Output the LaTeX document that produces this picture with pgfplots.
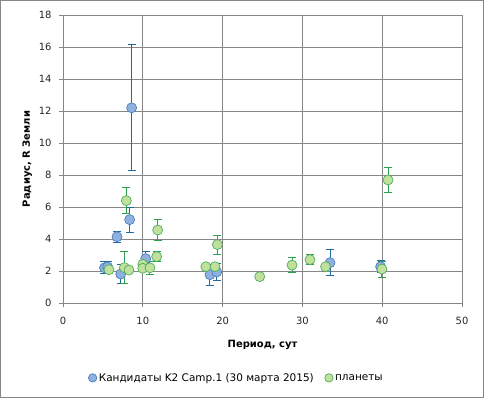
\documentclass[border=0pt]{standalone}
\usepackage{fontspec}
\setmainfont{DejaVu Sans}
\usepackage{pgfplots}
\pgfplotsset{compat=1.18}
\definecolor{bfill}{HTML}{8EB1E0}
\definecolor{bedge}{HTML}{4A7EBB}
\definecolor{berr}{HTML}{1F6A9E}
\definecolor{gfill}{HTML}{C0E09C}
\definecolor{gedge}{HTML}{4EAE5E}
\definecolor{gerr}{HTML}{2E9E50}
\definecolor{gridc}{HTML}{868686}
\begin{document}
\begin{tikzpicture}[x=1bp,y=1bp]
\path[use as bounding box] (0,0) rectangle (484,398);
\draw[gridc, line width=0.8bp] (0.5,0.5) rectangle (483.5,397.5);
\begin{axis}[
  at={(63bp,95bp)}, anchor=south west,
  scale only axis, width=399bp, height=288bp,
  xmin=0, xmax=50, ymin=0, ymax=18,
  xtick={0,10,...,50}, ytick={0,2,...,18},
  grid=major,
  major grid style={gridc, line width=0.8bp},
  axis line style={gridc, line width=0.8bp},
  tick style={gridc, line width=0.8bp},
  tick align=outside, major tick length=4bp,
  axis x line*=bottom, axis y line*=left,
  tick label style={font=\fontsize{10}{12}\selectfont, text=black!85},
  /pgf/number format/assume math mode=true,
  xticklabel style={yshift=-7bp},
  yticklabel style={xshift=-4bp},
  xlabel={\bfseries Период, сут},
  ylabel={\bfseries Радиус,  R Земли},
  label style={font=\fontsize{10}{12}\selectfont},
  xlabel style={yshift=-8bp},
  ylabel style={yshift=0bp},
  legend columns=2,
  legend image code/.code={\draw[#1, mark size=4.2bp] plot coordinates {(0.1cm,0cm)};},
  legend style={draw=none, fill=none, at={(0.435,-0.26)}, anchor=center,
    font=\fontsize{10.5}{12}\selectfont, /tikz/every even column/.append style={column sep=9bp}},
  legend cell align=left,
]
\addplot+[only marks, mark=*, mark size=5bp,
  mark options={fill=bfill, draw=bedge, line width=0.7bp},
  error bars/.cd, y dir=both, y explicit,
  error bar style={berr, line width=1bp},
  error mark options={rotate=90, mark size=4bp, berr, line width=1bp}]
  table[x=x, y=y, y error=e] {
x y e
5.2 2.2 0.38
5.6 2.25 0.35
6.77 4.14 0.36
7.23 1.81 0.58
8.35 5.21 0.78
8.6 12.2 3.93
10.36 2.77 0.43
18.42 1.77 0.65
19.26 1.94 0.55
33.46 2.52 0.8
39.8 2.27 0.37
};
\addlegendentry{Кандидаты K2 Camp.1 (30 марта 2015)}
\addplot+[only marks, mark=*, mark size=5bp,
  mark options={fill=gfill, draw=gedge, line width=0.7bp},
  error bars/.cd, y dir=both, y explicit,
  error bar style={gerr, line width=1bp},
  error mark options={rotate=90, mark size=4bp, gerr, line width=1bp}]
  table[x=x, y=y, y error=e] {
x y e
5.76 2.08 0.15
7.69 2.21 1.0
7.94 6.4 0.83
8.27 2.06 0.1
9.99 2.42 0.1
9.99 2.17 0.1
10.9 2.2 0.4
11.74 2.9 0.3
11.86 4.56 0.64
17.9 2.27 0.1
19.05 2.27 0.1
19.34 3.65 0.6
24.65 1.65 0.05
28.7 2.37 0.48
30.95 2.71 0.3
32.9 2.27 0.1
39.97 2.12 0.5
40.73 7.69 0.8
};
\addlegendentry{планеты}
\end{axis}
\end{tikzpicture}
\end{document}
